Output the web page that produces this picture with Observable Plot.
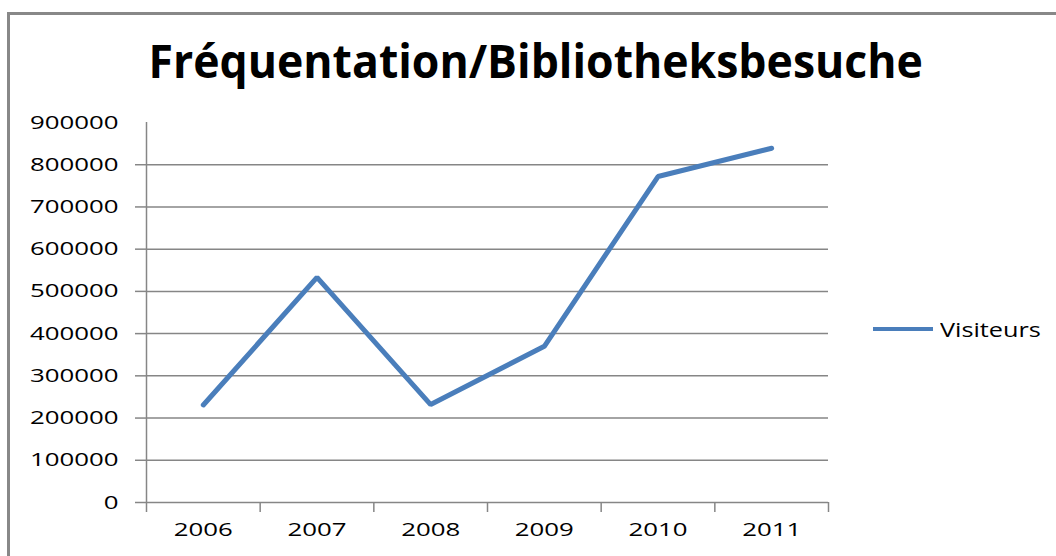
<!DOCTYPE html>
<html>
<head>
<meta charset="utf-8">
<script src="https://cdn.jsdelivr.net/npm/d3@7"></script>
<script src="https://cdn.jsdelivr.net/npm/@observablehq/plot@0.6"></script>
<style>
  html, body { margin: 0; padding: 0; background: #fff; }
  #wrap { position: relative; width: 1056px; height: 556px; overflow: hidden; background: #fff; }
  #frame { position: absolute; left: 7px; top: 12px; width: 1100px; height: 600px; border-left: 3px solid #888; border-top: 3px solid #888; box-sizing: border-box; }
  #chart { position: absolute; left: 0; top: 0; }
  #title { position: absolute; top: 37px; left: 535px; white-space: nowrap; font-family: "Open Sans", sans-serif; font-weight: 700; font-size: 46px; line-height: 1; color: #000; }
  #legend { position: absolute; left: 873px; top: 316px; height: 26px; display: flex; align-items: center; white-space: nowrap; }
  #legend .swatch { width: 60px; height: 4px; background: #4a7ebb; margin-right: 7px; }
  #legend .label { font-family: "Open Sans", sans-serif; font-size: 20px; color: #000; display: inline-block; transform-origin: left center; }
</style>
</head>
<body>
<div id="wrap">
  <div id="frame"></div>
  <div id="chart"></div>
  <div id="title"></div>
  <div id="legend"><span class="swatch"></span><span class="label"></span></div>
</div>
<script>
// ---- data ----
const titleText = "Fréquentation/Bibliotheksbesuche";
const seriesName = "Visiteurs";
const years = [2006, 2007, 2008, 2009, 2010, 2011];
const visiteurs = [231000, 533000, 232000, 370000, 772000, 839000];
const yTickLabels = [0, 100000, 200000, 300000, 400000, 500000, 600000, 700000, 800000, 900000];
const yGridTicks = [0, 100000, 200000, 300000, 400000, 500000, 600000, 700000, 800000];

const data = years.map((y, i) => ({year: y, value: visiteurs[i]}));
const bounds = [years[0] - 0.5, ...years.map(y => y + 0.5)];
const gray = "#868686";

const chart = Plot.plot({
  width: 1056,
  height: 556,
  marginLeft: 146,
  marginRight: 228,
  marginTop: 122,
  marginBottom: 54,
  x: {type: "linear", domain: [bounds[0], bounds[bounds.length - 1]]},
  y: {domain: [0, 900000]},
  style: {fontFamily: "'Open Sans', sans-serif", fontSize: "19px", color: "#000", background: "transparent"},
  marks: [
    Plot.gridY(yGridTicks, {stroke: gray, strokeOpacity: 1, strokeWidth: 1.5}),
    Plot.ruleX([bounds[0]], {y1: 0, y2: 900000, stroke: gray, strokeWidth: 1.5}),
    Plot.axisY(yGridTicks, {tickSize: 11, stroke: gray, strokeWidth: 1.5, tickFormat: () => "", label: null}),
    Plot.axisY(yTickLabels, {tickSize: 0, tickPadding: 28, tickFormat: d3.format("d"), label: null, fill: "#000"}),
    Plot.axisX(bounds, {tickSize: 10, stroke: gray, strokeWidth: 1.5, tickFormat: () => "", label: null}),
    Plot.axisX(years, {tickSize: 0, tickPadding: 20, tickFormat: d3.format("d"), label: null, fill: "#000"}),
    Plot.line(data, {x: "year", y: "value", stroke: "#4a7ebb", strokeWidth: 5, strokeLinejoin: "miter"})
  ]
});
document.getElementById("chart").appendChild(chart);

// stretch tick labels horizontally (reference uses a wide, stretched font)
const sx = 1.36;
chart.querySelectorAll('g[aria-label$="tick label"] text').forEach(t => {
  const x = +(t.getAttribute("x") || 0);
  const tr = t.getAttribute("transform") || "";
  t.removeAttribute("x");
  t.setAttribute("transform", `${tr} translate(${x},0) scale(${sx},1)`);
});

// title
const title = document.getElementById("title");
title.textContent = titleText;
const tw = title.offsetWidth;
title.style.left = (535 - tw / 2) + "px";
title.style.transformOrigin = "center top";
title.style.transform = `scaleX(${774 / tw})`;

// legend
const lab = document.querySelector("#legend .label");
lab.textContent = seriesName;
lab.style.transform = `scaleX(${101 / lab.offsetWidth})`;
</script>
</body>
</html>
